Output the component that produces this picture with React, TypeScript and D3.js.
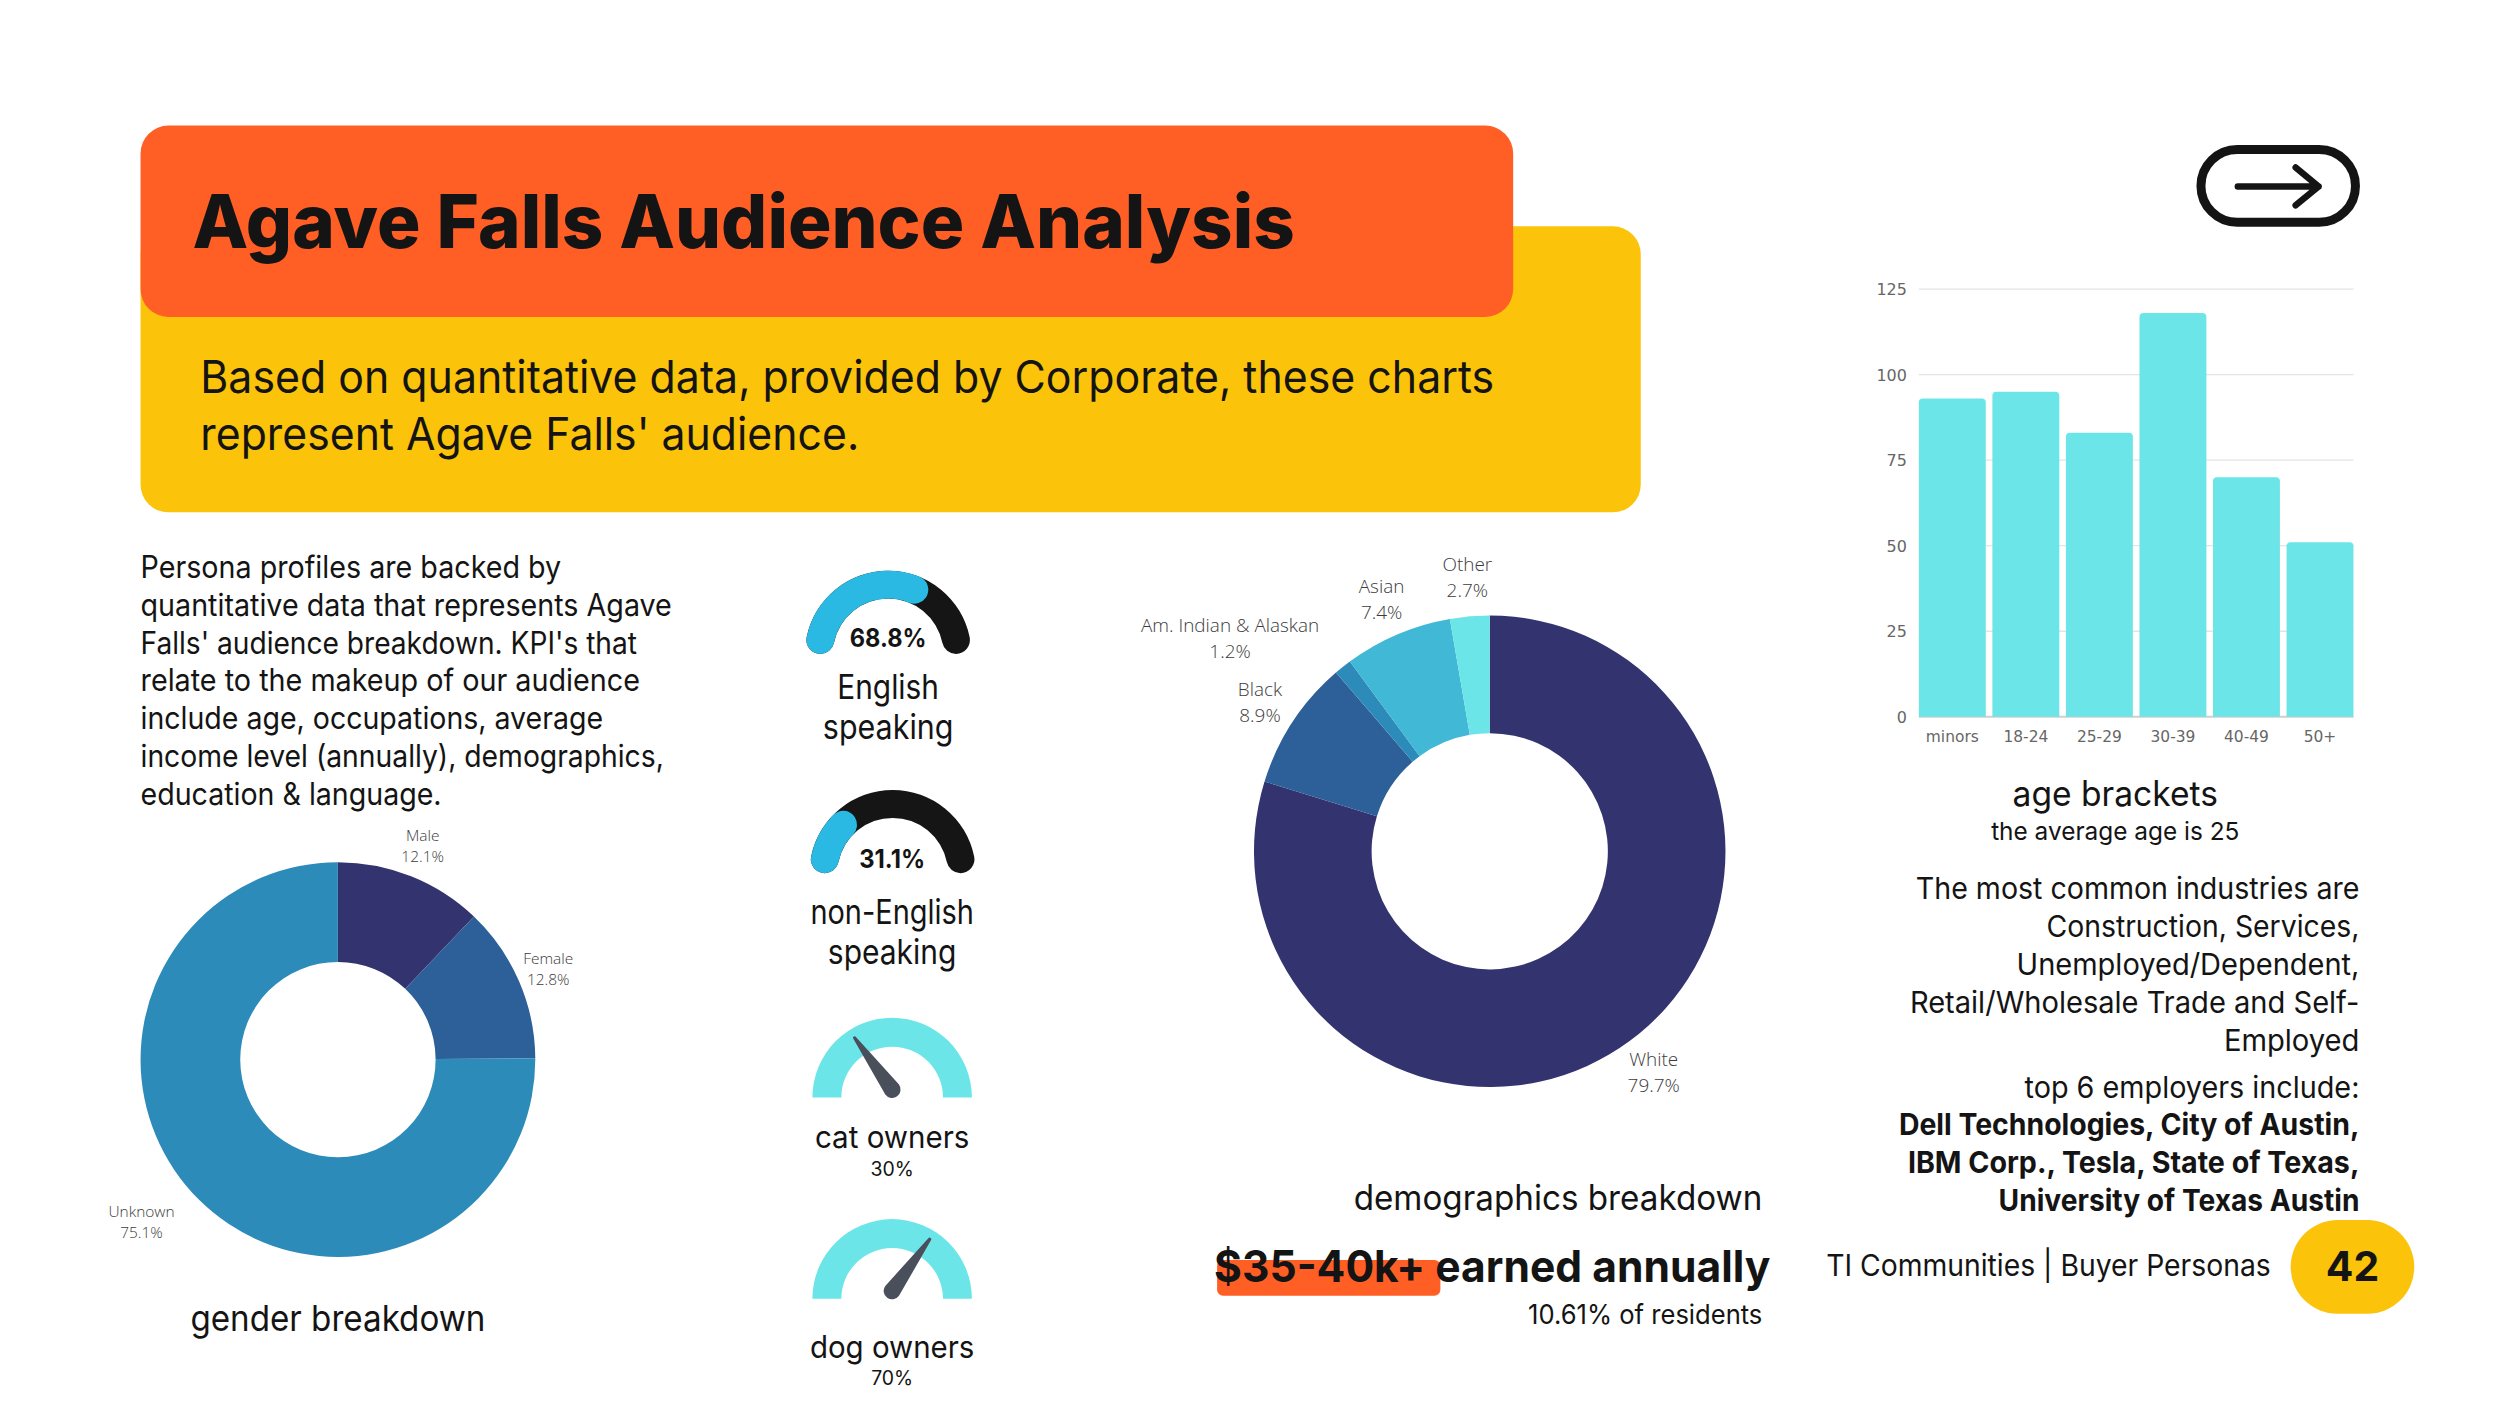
import React from "react";
import * as d3 from "d3";

const ageCategories = ["minors", "18-24", "25-29", "30-39", "40-49", "50+"];
const ageValues = [93, 95, 83, 118, 70, 51];
const ageTicks = [0, 25, 50, 75, 100, 125];

const raceLabels = ["White", "Black", "Am. Indian & Alaskan", "Asian", "Other"];
const raceValues = [79.7, 8.9, 1.2, 7.4, 2.7];
const raceColors = ["#33346f", "#2d5f98", "#2d8bba", "#41b8d5", "#6ce5e8"];

const genderLabels = ["Male", "Female", "Unknown"];
const genderValues = [12.1, 12.8, 75.1];
const genderColors = ["#33346f", "#2d5f98", "#2d8bba"];

const englishShare = 68.8;
const nonEnglishShare = 31.1;
const catShare = 30;
const dogShare = 70;

const personaLines = [
  "Persona profiles are backed by",
  "quantitative data that represents Agave",
  "Falls' audience breakdown. KPI's that",
  "relate to the makeup of our audience",
  "include age, occupations, average",
  "income level (annually), demographics,",
  "education & language.",
];
const personaWidths = [422, 533, 498, 501, 464, 525, 302];
const industryLines = [
  "The most common industries are",
  "Construction, Services,",
  "Unemployed/Dependent,",
  "Retail/Wholesale Trade and Self-",
  "Employed",
];
const industryWidths = [445, 314, 344, 451, 136];
const employerLines = [
  "Dell Technologies, City of Austin,",
  "IBM Corp., Tesla, State of Texas,",
  "University of Texas Austin",
];
const employerWidths = [462, 453, 362];

const FONT = "Inter, 'Noto Sans', sans-serif";
const CHART_FONT = "'Open Sans', sans-serif";
const INK = "#141414";

type TP = { x: number; y: number; s: number; w?: number; b?: number; a?: "start" | "middle" | "end"; f?: string; c?: string; children: React.ReactNode };
const T = ({ x, y, s, w, b = 400, a = "start", f = FONT, c = INK, children }: TP) => (
  <text x={x} y={y} fontSize={s} fontWeight={b} textAnchor={a} fontFamily={f} fill={c}
    {...(w ? { textLength: w, lengthAdjust: "spacingAndGlyphs" } : {})}>{children}</text>
);

const rad = (deg: number) => (deg * Math.PI) / 180;

function Donut({ cx, cy, R, r, values, colors }: { cx: number; cy: number; R: number; r: number; values: number[]; colors: string[] }) {
  const arcs = d3.pie<number>().sort(null)(values);
  const arc = d3.arc<d3.PieArcDatum<number>>().innerRadius(r).outerRadius(R);
  return (
    <g transform={`translate(${cx},${cy})`}>
      {arcs.map((d, i) => <path key={i} d={arc(d) || ""} fill={colors[i]} />)}
    </g>
  );
}

function RoundGauge({ cx, cy, value }: { cx: number; cy: number; value: number }) {
  const R = 69.5, W = 28;
  const angle = d3.scaleLinear().domain([0, 100]).range([-90, 90]);
  const band = d3.arc<any>().innerRadius(R - W / 2).outerRadius(R + W / 2).cornerRadius(W / 2);
  const track = band({ startAngle: rad(angle(0)), endAngle: rad(angle(100)) }) || "";
  const fill = band({ startAngle: rad(angle(0)), endAngle: rad(angle(value)) }) || "";
  return (
    <g transform={`translate(${cx},${cy})`}>
      <path d={track} fill="#151515" />
      <path d={fill} fill="#29b9e3" />
    </g>
  );
}

function NeedleGauge({ cx, cy, value }: { cx: number; cy: number; value: number }) {
  const angle = d3.scaleLinear().domain([0, 100]).range([-90, 90]);
  const band = d3.arc<any>().innerRadius(51).outerRadius(80);
  const a = angle(value);
  const L = 64, P = 8.5, pivotY = -8;
  const needle = `M ${-P} 0 L -1.6 ${-L} A 1.6 1.6 0 0 1 1.6 ${-L} L ${P} 0 A ${P} ${P} 0 0 1 ${-P} 0 Z`;
  return (
    <g transform={`translate(${cx},${cy})`}>
      <path d={band({ startAngle: rad(-90), endAngle: rad(90) }) || ""} fill="#6ce5e8" />
      <path d={needle} fill="#4a4f5c" transform={`translate(0,${pivotY}) rotate(${a})`} />
    </g>
  );
}

function AgeBars() {
  const x = d3.scaleBand().domain(ageCategories).range([1925, 2361]).paddingInner(0.09).paddingOuter(0);
  const y = d3.scaleLinear().domain([0, 125]).range([719, 290]);
  const bw = x.bandwidth();
  const rr = 4;
  return (
    <g>
      {ageTicks.map((t) => (
        <g key={t}>
          <line x1={1925} x2={2361} y1={y(t)} y2={y(t)} stroke={t === 0 ? "#cfcfcf" : "#e4e4e4"} strokeWidth={t === 0 ? 2 : 1.4} />
          <T x={1913} y={y(t) + 6} s={16} a="end" c="#666" f="'DejaVu Sans', sans-serif">{t}</T>
        </g>
      ))}
      {ageValues.map((v, i) => {
        const bx = x(ageCategories[i]) as number;
        const top = y(v), bot = y(0);
        return <path key={i} fill="#6ce5e8"
          d={`M${bx} ${bot}V${top + rr}Q${bx} ${top} ${bx + rr} ${top}H${bx + bw - rr}Q${bx + bw} ${top} ${bx + bw} ${top + rr}V${bot}Z`} />;
      })}
      {ageCategories.map((c) => (
        <T key={c} x={(x(c) as number) + bw / 2} y={744} s={15.5} a="middle" c="#666" f="'DejaVu Sans', sans-serif">{c}</T>
      ))}
    </g>
  );
}

function PieLabel({ x, y, s, gap, name, pct }: { x: number; y: number; s: number; gap: number; name: string; pct: number }) {
  return (
    <g>
      <T x={x} y={y} s={s} a="middle" f={CHART_FONT} c="#3c3c3c" b={300}>{name}</T>
      <T x={x} y={y + gap} s={s} a="middle" f={CHART_FONT} c="#3c3c3c" b={300}>{pct.toFixed(1) + "%"}</T>
    </g>
  );
}

export default function App() {
  return (
    <svg width={2500} height={1407} viewBox="0 0 2508 1411.5" style={{ position: "absolute", left: 0, top: 0, display: "block", background: "#fff" }}>
      <rect x={141} y={227} width={1505} height={287} rx={28} fill="#fbc30a" />
      <rect x={141} y={126} width={1377} height={192} rx={28} fill="#ff5f25" />
      <T x={193} y={249} s={74} b={800} w={1106}>Agave Falls Audience Analysis</T>
      <T x={201} y={394} s={45} w={1298}>Based on quantitative data, provided by Corporate, these charts</T>
      <T x={201} y={451} s={45} w={661}>represent Agave Falls' audience.</T>

      {personaLines.map((l, i) => (
        <T key={i} x={141} y={580 + i * 37.9} s={31} w={personaWidths[i]}>{l}</T>
      ))}

      <Donut cx={339} cy={1063} R={198} r={98} values={genderValues} colors={genderColors} />
      <PieLabel x={424} y={844} s={15.5} gap={21} name={genderLabels[0]} pct={genderValues[0]} />
      <PieLabel x={550} y={967} s={15.5} gap={21} name={genderLabels[1]} pct={genderValues[1]} />
      <PieLabel x={142} y={1221} s={15.5} gap={21} name={genderLabels[2]} pct={genderValues[2]} />
      <T x={339} y={1335} s={36} a="middle" w={296}>gender breakdown</T>

      <RoundGauge cx={891} cy={656} value={englishShare} />
      <T x={891} y={649} s={26} b={700} a="middle" w={77}>{englishShare + "%"}</T>
      <T x={891} y={701} s={34} a="middle" w={102}>English</T>
      <T x={891} y={741} s={34} a="middle" w={131}>speaking</T>

      <RoundGauge cx={895.5} cy={876} value={nonEnglishShare} />
      <T x={895} y={871} s={26} b={700} a="middle" w={66}>{nonEnglishShare + "%"}</T>
      <T x={895} y={927} s={34} a="middle" w={164}>non-English</T>
      <T x={895} y={967} s={34} a="middle" w={129}>speaking</T>

      <NeedleGauge cx={895} cy={1101} value={catShare} />
      <T x={895} y={1152} s={31} a="middle" w={155}>cat owners</T>
      <T x={895} y={1180} s={19.5} a="middle">{catShare + "%"}</T>

      <NeedleGauge cx={895} cy={1303} value={dogShare} />
      <T x={895} y={1362} s={31} a="middle" w={165}>dog owners</T>
      <T x={895} y={1389} s={19.5} a="middle">{dogShare + "%"}</T>

      <Donut cx={1494.5} cy={854} R={236.5} r={118.5} values={raceValues} colors={raceColors} />
      <PieLabel x={1659} y={1069} s={19} gap={26} name={raceLabels[0]} pct={raceValues[0]} />
      <PieLabel x={1264} y={698} s={19} gap={26} name={raceLabels[1]} pct={raceValues[1]} />
      <PieLabel x={1234} y={634} s={19} gap={26} name={raceLabels[2]} pct={raceValues[2]} />
      <PieLabel x={1386} y={595} s={19} gap={26} name={raceLabels[3]} pct={raceValues[3]} />
      <PieLabel x={1472} y={573} s={19} gap={26} name={raceLabels[4]} pct={raceValues[4]} />

      <T x={1768} y={1214} s={35} a="end" w={410}>demographics breakdown</T>
      <rect x={1221} y={1264} width={224} height={36} rx={6} fill="#ff5f25" />
      <T x={1218} y={1286} s={44} b={700} w={558}>$35-40k+ earned annually</T>
      <T x={1768} y={1328} s={27} a="end" w={235}>10.61% of residents</T>

      <rect x={2208} y={150} width={155} height={73} rx={36.5} fill="none" stroke={INK} strokeWidth={9} />
      <path d="M2245 187H2326M2303 168L2326 187L2303 206" fill="none" stroke={INK} strokeWidth={6.5} strokeLinecap="round" strokeLinejoin="round" />

      <AgeBars />
      <T x={2122} y={809} s={35} a="middle" w={206}>age brackets</T>
      <T x={2122} y={843} s={25} a="middle" w={249}>the average age is 25</T>

      {industryLines.map((l, i) => (
        <T key={i} x={2367} y={902 + i * 38} s={30} a="end" w={industryWidths[i]}>{l}</T>
      ))}
      <T x={2367} y={1102} s={30} a="end" w={336}>top 6 employers include:</T>
      {employerLines.map((l, i) => (
        <T key={i} x={2367} y={1139 + i * 38} s={30} b={700} a="end" w={employerWidths[i]}>{l}</T>
      ))}

      <T x={1832} y={1280} s={30} w={446}>TI Communities | Buyer Personas</T>
      <rect x={2298} y={1224} width={124} height={94} rx={47} fill="#fbc30a" />
      <T x={2360} y={1285} s={41} b={700} a="middle">42</T>
    </svg>
  );
}
